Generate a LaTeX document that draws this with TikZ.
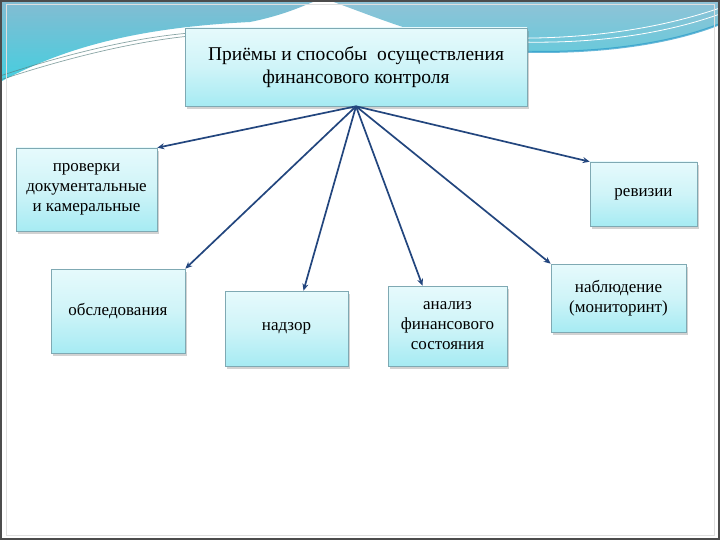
\documentclass[tikz,border=0pt]{standalone}
\usepackage{fontspec}
\setmainfont{Liberation Serif}
\usetikzlibrary{shadows,arrows.meta}
\definecolor{arrowblue}{HTML}{23467E}
\definecolor{boxedge}{HTML}{7FA9B3}
\definecolor{bandtop}{HTML}{84BCD2}
\definecolor{bandbot}{HTML}{45CEDF}
\definecolor{boxtop}{HTML}{E6FAFC}
\definecolor{boxmid}{HTML}{CFF4F8}
\definecolor{boxbot}{HTML}{A6EBF3}
\tikzset{
  box/.style={draw=boxedge, line width=0.6pt, top color=boxtop, bottom color=boxbot,
    middle color=boxmid, align=center, inner sep=2pt, font=\fontsize{17}{20}\selectfont,
    drop shadow={shadow xshift=2pt, shadow yshift=-3pt, opacity=0.35, fill=gray}},
  link/.style={draw=arrowblue, line width=1.7pt, -{Stealth[length=7pt,width=6pt]}}
}
\begin{document}
\begin{tikzpicture}[x=1pt,y=-1pt]
\useasboundingbox (0,0) rectangle (720,540);
\fill[white] (0,0) rectangle (720,540);
% background bands
\shade[top color=bandtop, bottom color=bandbot] (0,0) -- (0,82) .. controls (60,50) and (130,28) .. (250,22) .. controls (285,15) and (305,5) .. (318,0) -- cycle;
\shade[top color=bandtop!90!white, bottom color=bandtop!80!cyan] (328,0) .. controls (390,22) and (450,50) .. (540,52) .. controls (620,52) and (680,40) .. (720,24) -- (720,0) -- cycle;
\draw[cyan!60!teal, line width=2pt, opacity=0.7] (380,30) .. controls (440,50) and (480,52) .. (540,52) .. controls (620,52) and (680,40) .. (720,24);
\draw[white, line width=0.8pt] (500,38) .. controls (600,40) and (670,25) .. (720,8);
\draw[white, line width=0.8pt] (520,42) .. controls (610,44) and (675,30) .. (720,14);
\draw[gray!70!teal, line width=0.7pt, opacity=0.7] (0,80) .. controls (60,60) and (130,42) .. (190,36);
\draw[gray!70!teal, line width=0.7pt, opacity=0.7] (0,76) .. controls (60,56) and (130,38) .. (190,33);
% frame
\draw[gray!25, line width=0.8pt] (6,4) rectangle (714,535);
\draw[black!70, line width=2pt] (1,1) rectangle (719,539);
% nodes
\node[box, minimum width=342pt, minimum height=78pt, font=\fontsize{19.5}{23}\selectfont] (top) at (356,67) {Приёмы и способы~ осуществления\\финансового контроля};
\node[box, minimum width=141pt, minimum height=83pt] (prov) at (86.5,189.5) {проверки\\документальные\\и камеральные};
\node[box, minimum width=107pt, minimum height=64pt] (rev) at (643.5,194) {ревизии};
\node[box, minimum width=134pt, minimum height=84pt] (obs) at (118,311) {обследования};
\node[box, minimum width=123pt, minimum height=75pt] (nadz) at (286.5,328.5) {надзор};
\node[box, minimum width=119pt, minimum height=80pt] (anal) at (447.5,326) {анализ\\финансового\\состояния};
\node[box, minimum width=135pt, minimum height=68pt] (nabl) at (618.5,298) {наблюдение\\(мониторинт)};
% connectors
\draw[link] (top.south) -- (prov.north east);
\draw[link] (top.south) -- (obs.north east);
\draw[link] (top.south) -- ([xshift=17pt]nadz.north);
\draw[link] (top.south) -- ([xshift=-25pt]anal.north);
\draw[link] (top.south) -- (rev.north west);
\draw[link] (top.south) -- (nabl.north west);
\end{tikzpicture}
\end{document}
